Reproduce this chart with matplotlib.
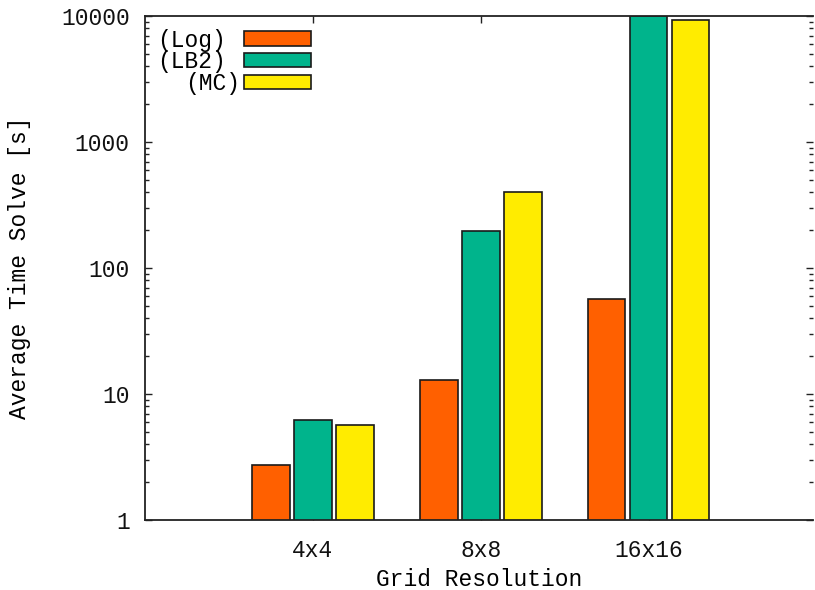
import matplotlib
matplotlib.use("Agg")
import matplotlib.pyplot as plt
import matplotlib.ticker as mticker
import numpy as np

categories = ["4x4", "8x8", "16x16"]
series_names = ["(Log)", "(LB2)", "(MC)"]
log_vals = [2.73, 13.0, 56.8]
lb2_vals = [6.2, 197, 10000]
mc_vals = [5.67, 401, 9290]
colors = ["#FF6000", "#00B48C", "#FFEC00"]
yticks = [1, 10, 100, 1000, 10000]
ytick_labels = ["1", "10", "100", "1000", "10000"]

plt.rcParams['font.family'] = ['Liberation Mono', 'DejaVu Sans Mono']
fs = 16.5

fig = plt.figure(figsize=(8.15, 5.9), dpi=100)
ax = fig.add_axes([145/815, 70/590, 668/815, 504/590])

x = np.arange(len(categories))
w = 0.225
offs = [-0.25, 0.0, 0.25]
for vals, name, c, o in zip([log_vals, lb2_vals, mc_vals], series_names, colors, offs):
    ax.bar(x + o, vals, width=w, color=c, edgecolor="#1a1a1a", linewidth=1.2, label=name, zorder=2)

ax.set_yscale("log")
ax.set_ylim(1, 10000)
ax.set_xlim(-1, 2.98)
ax.set_yticks(yticks)
ax.set_yticklabels(ytick_labels)
ax.yaxis.set_minor_locator(mticker.LogLocator(base=10, subs=np.arange(2, 10)))
ax.yaxis.set_minor_formatter(mticker.NullFormatter())
ax.set_xticks(x)
ax.set_xticklabels(categories)
ax.tick_params(axis="both", which="both", direction="in", top=True, right=True, labelsize=fs, colors="#222222", labelcolor="#111111")
ax.tick_params(axis="both", which="major", length=5, width=1)
ax.tick_params(axis="both", which="minor", length=3, width=1)
ax.tick_params(axis="x", which="both", pad=14)
ax.tick_params(axis="y", which="both", pad=11)
ax.spines["right"].set_visible(False)
for s in ["left", "bottom", "top"]:
    ax.spines[s].set_linewidth(1.3)
    ax.spines[s].set_color("#222222")

ax.set_xlabel("Grid Resolution", fontsize=fs, va="center")
ax.set_ylabel("Average Time Solve [s]", fontsize=fs, va="center")
ax.xaxis.set_label_coords(0.5, (520 - 580) / 504)
ax.yaxis.set_label_coords((20 - 145) / 668, 0.5)

leg = ax.legend(loc="upper left", bbox_to_anchor=(0.0, 1.0), frameon=False, fontsize=fs,
                markerfirst=False, handlelength=2.93, handleheight=0.57, labelspacing=-0.05,
                handletextpad=0.75, borderaxespad=0.25, borderpad=0.3)
fig.canvas.draw()
# right-align labels
mx = max(t.get_window_extent().width for t in leg.get_texts())
for t in leg.get_texts():
    t.set_position((mx - t.get_window_extent().width, 0))

fig.savefig("out.png", dpi=100)
